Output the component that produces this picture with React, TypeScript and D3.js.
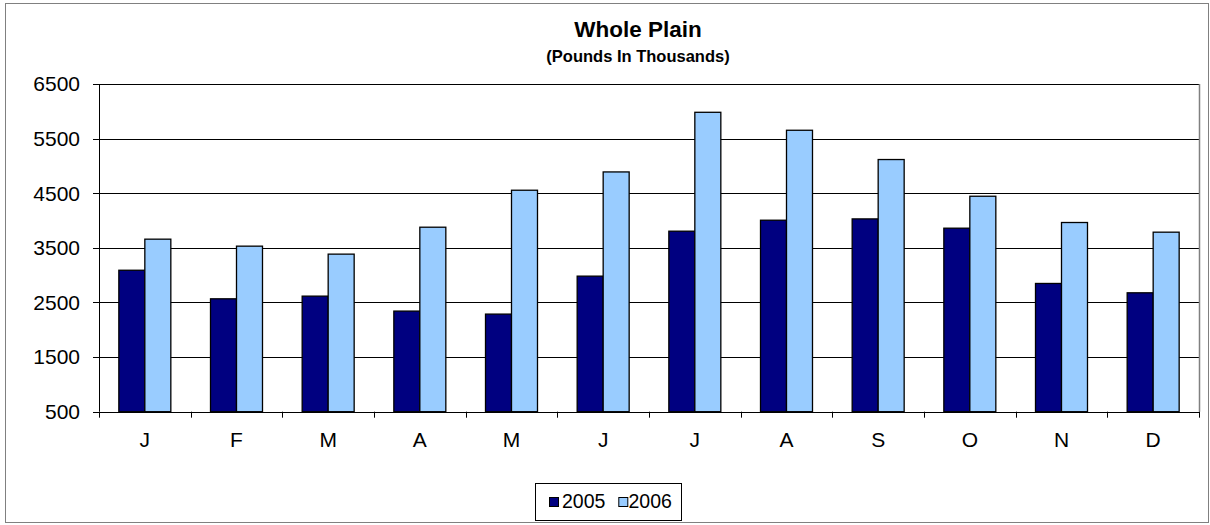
import React from "react";
import * as d3 from "d3";

const months = ["J", "F", "M", "A", "M", "J", "J", "A", "S", "O", "N", "D"];
const series2005 = [3090, 2567, 2616, 2342, 2287, 2982, 3805, 4006, 4030, 3860, 2848, 2677];
const series2006 = [3659, 3531, 3385, 3878, 4555, 4890, 5982, 5653, 5117, 4445, 3964, 3787];
const seriesNames = ["2005", "2006"];
const colors = ["#000080", "#99CCFF"];
const yTicks = [500, 1500, 2500, 3500, 4500, 5500, 6500];

const W = 1210;
const H = 525;
const left = 99;
const right = 1199;
const top = 84;
const bottom = 411.7;
const font = "'Liberation Sans', Arial, sans-serif";

export default function App() {
  const idx = months.map((_, i) => i);
  const x = d3.scaleBand<number>().domain(idx).range([left, right]).paddingInner(0).paddingOuter(0);
  const inner = d3.scaleBand<string>().domain(seriesNames).range([0, x.bandwidth()]).paddingInner(0).paddingOuter(0.763);
  const y = d3.scaleLinear().domain([500, 6500]).range([bottom, top]);
  const data = [series2005, series2006];

  return (
    <svg width={W} height={H} style={{ position: "absolute", left: 0, top: 0, background: "#fff" }}>
      <rect x={5.5} y={3.5} width={1203} height={519} fill="#fff" stroke="#808080" strokeWidth={1} />
      <text x={638} y={36.5} textAnchor="middle" fontFamily={font} fontWeight="bold" fontSize={22.5}>Whole Plain</text>
      <text x={638} y={62} textAnchor="middle" fontFamily={font} fontWeight="bold" fontSize={16.5}>(Pounds In Thousands)</text>
      {yTicks.map((t) => (
        <g key={t}>
          <line x1={left - 6} x2={right} y1={Math.round(y(t)) + 0.5} y2={Math.round(y(t)) + 0.5} stroke="#000" strokeWidth={1} />
          <text x={80} y={y(t) + 7.3} textAnchor="end" fontFamily={font} fontSize={21}>{t}</text>
        </g>
      ))}
      <line x1={right + 0.5} x2={right + 0.5} y1={top} y2={bottom} stroke="#808080" strokeWidth={1.5} />
      {data.map((s, si) =>
        s.map((v, i) => (
          <rect
            key={`${si}-${i}`}
            x={(x(i) as number) + (inner(seriesNames[si]) as number)}
            y={y(v)}
            width={inner.bandwidth()}
            height={y(500) - y(v)}
            fill={colors[si]}
            stroke="#000"
            strokeWidth={1.3}
          />
        ))
      )}
      <line x1={left + 0.5} x2={left + 0.5} y1={top} y2={bottom} stroke="#000" strokeWidth={1} />
      <line x1={left} x2={right} y1={Math.round(bottom) + 0.5} y2={Math.round(bottom) + 0.5} stroke="#000" strokeWidth={1} />
      {d3.range(13).map((k) => {
        const xx = Math.round(left + k * x.step()) + 0.5;
        return <line key={k} x1={xx} x2={xx} y1={bottom} y2={bottom + 6} stroke="#000" strokeWidth={1} />;
      })}
      {months.map((m, i) => (
        <text key={i} x={(x(i) as number) + x.bandwidth() / 2} y={446.5} textAnchor="middle" fontFamily={font} fontSize={21}>{m}</text>
      ))}
      <rect x={535.5} y={483.5} width={146} height={37} fill="#fff" stroke="#000" strokeWidth={1} />
      {seriesNames.map((n, i) => (
        <g key={n}>
          <rect x={549.5 + i * 69.3} y={497.5} width={9} height={9} fill={colors[i]} stroke="#000" strokeWidth={1} />
          <text x={562 + i * 66.5} y={507.5} fontFamily={font} fontSize={19.5}>{n}</text>
        </g>
      ))}
    </svg>
  );
}
